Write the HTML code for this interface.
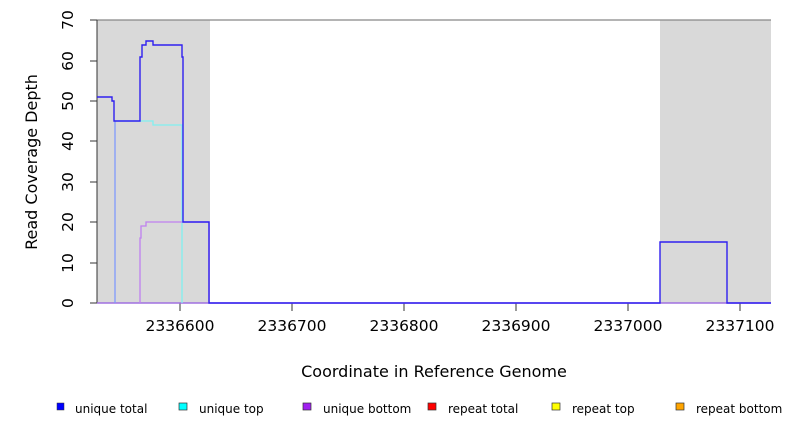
<!DOCTYPE html>
<html><head><meta charset="utf-8"><style>
html,body{margin:0;padding:0;background:#fff;}
svg{display:block;font-family:"DejaVu Sans","Liberation Sans",sans-serif;}
</style></head><body>
<svg width="792" height="432" viewBox="0 0 792 432" xmlns="http://www.w3.org/2000/svg">
<rect x="97" y="20" width="113" height="283" fill="#d9d9d9"/>
<rect x="660" y="20" width="111" height="283" fill="#d9d9d9"/>
<line x1="97" y1="20" x2="771" y2="20" stroke="#888" stroke-width="1.2"/>
<line x1="97" y1="20" x2="97" y2="303" stroke="#333" stroke-width="1"/>
<g stroke="#333" stroke-width="1">
<line x1="90" y1="303" x2="97" y2="303"/><line x1="90" y1="263" x2="97" y2="263"/>
<line x1="90" y1="222" x2="97" y2="222"/><line x1="90" y1="182" x2="97" y2="182"/>
<line x1="90" y1="141" x2="97" y2="141"/><line x1="90" y1="101" x2="97" y2="101"/>
<line x1="90" y1="61" x2="97" y2="61"/><line x1="90" y1="20" x2="97" y2="20"/>
<line x1="180" y1="303" x2="180" y2="311"/><line x1="292" y1="303" x2="292" y2="311"/>
<line x1="404" y1="303" x2="404" y2="311"/><line x1="516" y1="303" x2="516" y2="311"/>
<line x1="628" y1="303" x2="628" y2="311"/><line x1="740" y1="303" x2="740" y2="311"/>
</g>
<g font-size="15.5" fill="#000" text-anchor="middle">
<text transform="translate(73,303) rotate(-90)">0</text>
<text transform="translate(73,263) rotate(-90)">10</text>
<text transform="translate(73,222) rotate(-90)">20</text>
<text transform="translate(73,182) rotate(-90)">30</text>
<text transform="translate(73,141) rotate(-90)">40</text>
<text transform="translate(73,101) rotate(-90)">50</text>
<text transform="translate(73,61) rotate(-90)">60</text>
<text transform="translate(73,20) rotate(-90)">70</text>
<text x="180" y="331">2336600</text><text x="292" y="331">2336700</text>
<text x="404" y="331">2336800</text><text x="516" y="331">2336900</text>
<text x="628" y="331">2337000</text><text x="740" y="331">2337100</text>
<text x="434" y="377" font-size="16">Coordinate in Reference Genome</text>
<text transform="translate(37,162) rotate(-90)" font-size="16">Read Coverage Depth</text>
</g>
<line x1="97" y1="303" x2="771" y2="303" stroke="#a070e0" stroke-width="1.5"/>
<polyline fill="none" stroke="#80f0f0" stroke-width="1.3" points="115,303 115,121 153,121 153,125 182,125 182,303"/>
<polyline fill="none" stroke="#c080f0" stroke-width="1.3" points="140,303 140,238 141,238 141,226 146,226 146,222 209,222 209,303"/>
<polyline fill="none" stroke="#8080ff" stroke-width="1" points="115,121 115,303"/>
<polyline fill="none" stroke="#3020f0" stroke-width="1.4" points="97,97 112,97 112,101 114,101 114,121 140,121 140,57 142,57 142,45 146,45 146,41 153,41 153,45 182,45 182,57 183,57 183,222 209,222 209,303 660,303 660,242 727,242 727,303 771,303"/>
<g font-size="12" fill="#000">
<rect x="57" y="403" width="7" height="7" fill="#0000ff" stroke="#333" stroke-width="0.5"/><text x="75" y="413">unique total</text>
<rect x="179" y="403" width="8" height="7" fill="#00ffff" stroke="#333" stroke-width="0.7"/><text x="199" y="413">unique top</text>
<rect x="303" y="403" width="8" height="7" fill="#a020f0" stroke="#333" stroke-width="0.7"/><text x="323" y="413">unique bottom</text>
<rect x="428" y="403" width="8" height="7" fill="#ff0000" stroke="#333" stroke-width="0.7"/><text x="448" y="413">repeat total</text>
<rect x="552" y="403" width="8" height="7" fill="#ffff00" stroke="#333" stroke-width="0.7"/><text x="572" y="413">repeat top</text>
<rect x="676" y="403" width="8" height="7" fill="#ffa500" stroke="#333" stroke-width="0.7"/><text x="696" y="413">repeat bottom</text>
</g>
</svg>
</body></html>
